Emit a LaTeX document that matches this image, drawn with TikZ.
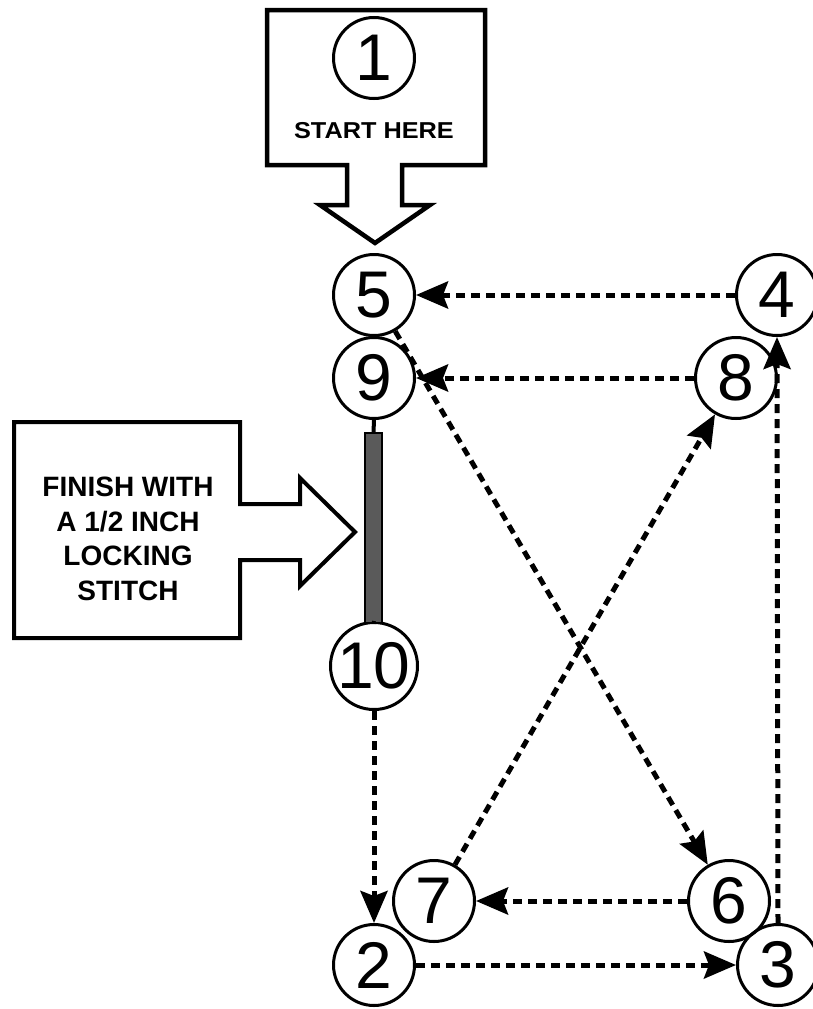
\documentclass[tikz,border=0pt]{standalone}
\usepackage{fontspec}
\setmainfont{Liberation Sans}
\usetikzlibrary{arrows.meta}
\definecolor{bargray}{RGB}{90,90,90}
\tikzset{
  num/.style={draw, circle, line width=3pt, minimum size=81pt, inner sep=0pt,
    font=\fontsize{66}{66}\selectfont},
  stitch/.style={line width=5pt, dash pattern=on 9pt off 6pt,
    -{Stealth[length=32pt,width=27pt,inset=5pt]}},
  callout/.style={line width=4.5pt, line join=miter},
  label/.style={font=\bfseries\fontsize{28}{34.5}\selectfont, align=center, inner sep=0pt}
}
\begin{document}
\begin{tikzpicture}[x=1pt,y=-1pt]
\useasboundingbox (0,0) rectangle (812,1009);
% start callout
\draw[callout] (267,10) -- (485,10) -- (485,165) -- (402,165) -- (402,205) -- (430,205)
  -- (375,243) -- (320,205) -- (347,205) -- (347,165) -- (267,165) -- cycle;
\node[num] (n1) at (374,58) {1};
\node[label, font=\bfseries\fontsize{23}{23}\selectfont, xscale=1.1] (start) at (374,131) {START HERE};
% finish callout
\draw[callout, line width=4pt] (14,422) -- (240,422) -- (240,504) -- (300,504) -- (300,478)
  -- (355,532) -- (300,586) -- (300,560) -- (240,560) -- (240,638) -- (14,638) -- cycle;
\node[label] (finish) at (128,539) {FINISH WITH\\A 1/2 INCH\\LOCKING\\STITCH};
% circles
\node[num] (n5) at (374,295) {5};
\node[num] (n9) at (374,378) {9};
\node[num] (n10) at (374,666) {10};
\node[num] (n2) at (374,965) {2};
\node[num] (n4) at (777,295) {4};
\node[num] (n8) at (736,378) {8};
\node[num] (n7) at (434,901) {7};
\node[num] (n6) at (729,901) {6};
\node[num] (n3) at (778,965) {3};
% locking stitch bar
\node[draw, line width=1.5pt, fill=bargray, minimum width=17pt, minimum height=190pt,
  inner sep=0pt] (bar) at (373.5,528) {};
\draw[line width=4pt] (n9.south) -- (bar.north);
\draw[line width=4pt] (bar.south) -- (n10.north);
% stitches
\draw[stitch] (n10.south) -- (n2.north);
\draw[stitch] (n2.east) -- (n3.west);
\draw[stitch] (n3.north) -- (n4.south);
\draw[stitch] (n4.west) -- (n5.east);
\draw[stitch] (n5) -- (n6);
\draw[stitch] (n6.west) -- (n7.east);
\draw[stitch] (n7) -- (n8);
\draw[stitch] (n8.west) -- (n9.east);
\end{tikzpicture}
\end{document}
